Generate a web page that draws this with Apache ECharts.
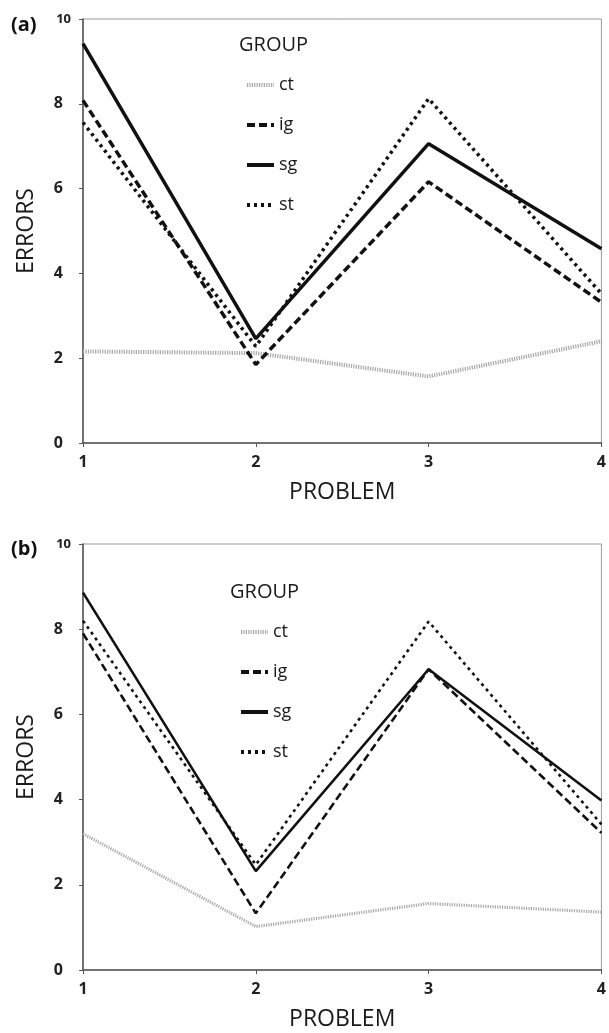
<!DOCTYPE html>
<html>
<head>
<meta charset="utf-8">
<script src="https://cdn.jsdelivr.net/npm/echarts@6/dist/echarts.min.js"></script>
<style>html,body{margin:0;padding:0;background:#fff;}#c{width:609px;height:1033px;}</style>
</head>
<body>
<div id="c"></div>
<script>
var problems = ['1', '2', '3', '4'];
var groups = ['ct', 'ig', 'sg', 'st'];
var yTicks = [0, 2, 4, 6, 8, 10];
// Panel (a)
var a_ct = [2.16, 2.12, 1.57, 2.4];
var a_ig = [8.08, 1.85, 6.16, 3.32];
var a_sg = [9.42, 2.46, 7.06, 4.58];
var a_st = [7.56, 2.28, 8.12, 3.52];
// Panel (b)
var b_ct = [3.2, 1.02, 1.56, 1.36];
var b_ig = [7.9, 1.33, 7.06, 3.22];
var b_sg = [8.86, 2.32, 7.06, 3.98];
var b_st = [8.2, 2.47, 8.18, 3.42];

var FONT = 'Open Sans';
var styles = {
  ct: {color: '#a8a8a8', type: [1.2, 1.2]},
  ig: {color: '#111', type: [8, 4]},
  sg: {color: '#111', type: 'solid'},
  st: {color: '#111', type: [3, 4]}
};

function mkSeries(name, data, idx, w) {
  var s = styles[name];
  return {
    type: 'line', name: name, data: data,
    xAxisIndex: idx, yAxisIndex: idx,
    symbol: 'none', showSymbol: false, animation: false,
    lineStyle: {color: s.color, type: s.type, width: name === 'ct' ? w + 0.5 : w},
    itemStyle: {color: s.color}
  };
}

function xAx(idx) {
  return {
    type: 'category', gridIndex: idx, data: problems, boundaryGap: false,
    name: 'PROBLEM', nameLocation: 'middle', nameGap: 38,
    nameTextStyle: {fontFamily: FONT, fontSize: 23, color: '#1a1a1a'},
    axisLine: {lineStyle: {color: '#555', width: 1.5}},
    axisTick: {show: true, length: 4, alignWithLabel: true, lineStyle: {color: '#555'}},
    axisLabel: {fontFamily: FONT, fontSize: 16, fontWeight: 'bold', color: '#222', margin: 11},
    splitLine: {show: false}
  };
}
function yAx(idx) {
  return {
    type: 'value', gridIndex: idx, min: yTicks[0], max: yTicks[yTicks.length - 1], interval: 2,
    name: 'ERRORS', nameLocation: 'middle', nameGap: 45, nameRotate: 90,
    nameTextStyle: {fontFamily: FONT, fontSize: 23, color: '#1a1a1a'},
    axisLine: {show: true, lineStyle: {color: '#555', width: 1.5}},
    axisTick: {show: true, length: 4, lineStyle: {color: '#555'}},
    axisLabel: {
      margin: 12,
      formatter: function (v) { return v === 10 ? '{s|10}' : '{n|' + v + '}'; },
      rich: {
        s: {fontFamily: FONT, fontSize: 13, fontWeight: 'bold', color: '#222'},
        n: {fontFamily: FONT, fontSize: 16, fontWeight: 'bold', color: '#222', padding: [0, 8, 0, 0]}
      }
    },
    splitLine: {show: false}
  };
}

var series = [];
var dA = {ct: a_ct, ig: a_ig, sg: a_sg, st: a_st};
var dB = {ct: b_ct, ig: b_ig, sg: b_sg, st: b_st};
groups.forEach(function (g) { series.push(mkSeries(g, dA[g], 0, 3.5)); });
groups.forEach(function (g) { series.push(mkSeries(g, dB[g], 1, 2.6)); });

function legendAt(left, top) {
  return {
    orient: 'vertical', left: left, top: top, data: groups,
    itemWidth: 27, itemHeight: 14, itemGap: 22,
    selectedMode: false,
    itemStyle: {opacity: 0, borderWidth: 0},
    lineStyle: {width: 4},
    textStyle: {fontFamily: FONT, fontSize: 18, color: '#1a1a1a', padding: [0, 0, 0, 0]}
  };
}

var option = {
  backgroundColor: '#fff',
  animation: false,
  title: [
    {text: '(a)', left: 6, top: 10, textStyle: {fontFamily: FONT, fontSize: 20, fontWeight: 'bold', color: '#111'}},
    {text: '(b)', left: 6, top: 534, textStyle: {fontFamily: FONT, fontSize: 20, fontWeight: 'bold', color: '#111'}},
    {text: 'GROUP', left: 234, top: 30, textStyle: {fontFamily: FONT, fontSize: 20, fontWeight: 'normal', color: '#1a1a1a'}},
    {text: 'GROUP', left: 225, top: 577, textStyle: {fontFamily: FONT, fontSize: 20, fontWeight: 'normal', color: '#1a1a1a'}}
  ],
  legend: [legendAt(240, 71), legendAt(234, 618)],
  grid: [
    {left: 83, top: 19, right: 1, height: 424, show: true, borderColor: '#999', borderWidth: 1, backgroundColor: 'transparent'},
    {left: 83, top: 544, right: 1, height: 426, show: true, borderColor: '#999', borderWidth: 1, backgroundColor: 'transparent'}
  ],
  xAxis: [xAx(0), xAx(1)],
  yAxis: [yAx(0), yAx(1)],
  series: series
};

var chart = echarts.init(document.getElementById('c'), null, {renderer: 'canvas'});
chart.setOption(option);
</script>
</body>
</html>
